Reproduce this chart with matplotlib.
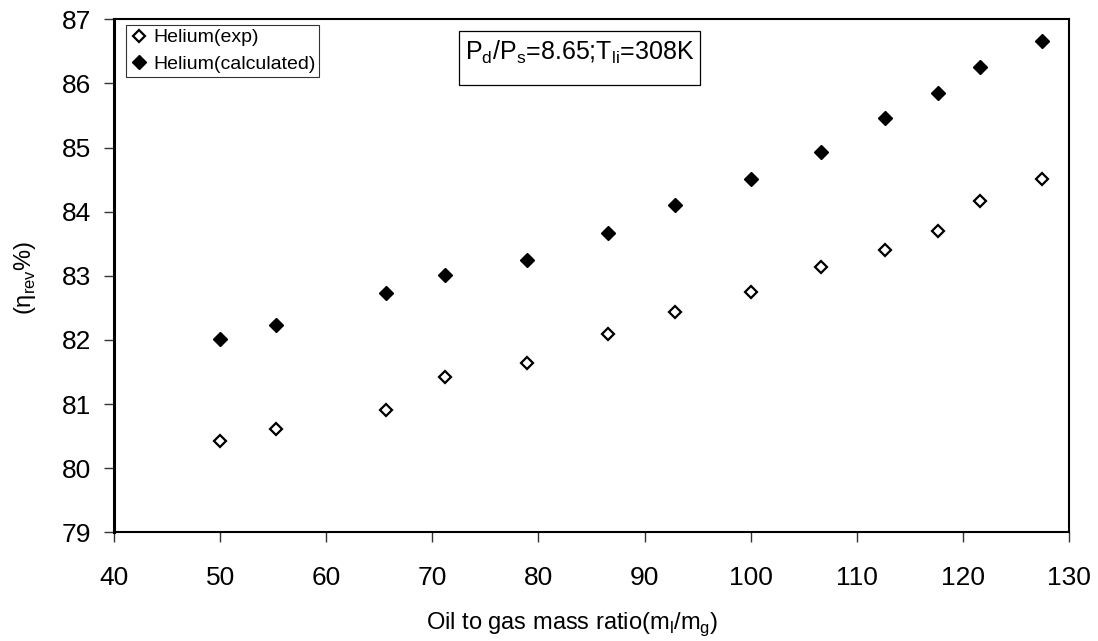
import matplotlib.pyplot as plt

# oil to gas mass ratio
ratio = [50.0, 55.3, 65.6, 71.2, 78.9, 86.6, 92.9, 100.0, 106.6, 112.7, 117.7, 121.6, 127.5]
# volumetric efficiency (%)
eta_exp = [80.43, 80.61, 80.91, 81.42, 81.64, 82.09, 82.43, 82.75, 83.13, 83.40, 83.70, 84.17, 84.51]
eta_calc = [82.02, 82.24, 82.73, 83.02, 83.24, 83.66, 84.11, 84.51, 84.93, 85.46, 85.85, 86.26, 86.66]

xticks = list(range(40, 131, 10))
yticks = list(range(79, 88))

plt.rcParams['font.family'] = ['Liberation Sans', 'DejaVu Sans']
plt.rcParams['mathtext.fontset'] = 'custom'
plt.rcParams['mathtext.rm'] = 'Liberation Sans'

f = plt.figure(figsize=(10.98, 6.41), dpi=100)
ax = f.add_axes([0.1038, 0.1696, 0.8698, 0.8003])

ax.plot(ratio, eta_exp, linestyle='none', marker='D', markersize=6.0,
        markerfacecolor='white', markeredgecolor='black', markeredgewidth=1.6,
        label='Helium(exp)')
ax.plot(ratio, eta_calc, linestyle='none', marker='D', markersize=7.0,
        color='black', label='Helium(calculated)')

ax.set_xlim(40, 130)
ax.set_ylim(79, 87)
ax.set_xticks(xticks)
ax.set_yticks(yticks)
ax.tick_params(axis='both', labelsize=19, direction='out', length=7.2, width=1, color='#333333')
ax.tick_params(axis='x', pad=17)
ax.tick_params(axis='y', pad=9)
for s in ax.spines.values():
  s.set_linewidth(1.5)
ax.spines['left'].set_linewidth(2.2)

ax.set_xlabel(r'Oil to gas mass ratio(m$_\mathregular{l}$/m$_\mathregular{g}$)', fontsize=17)
ax.xaxis.set_label_coords(0.48, -0.152)
ax.set_ylabel(r'(η$_\mathregular{rev}$%)', fontsize=17)
ax.yaxis.set_label_coords(-0.08, 0.496)

leg = ax.legend(loc='upper left', bbox_to_anchor=(0.0123, 0.9889), borderaxespad=0,
                fontsize=14, frameon=True, fancybox=False,
                handletextpad=0.2, handlelength=1.0, borderpad=0.2, labelspacing=0.45)
leg.get_frame().set_edgecolor('black')
leg.get_frame().set_linewidth(0.8)

# condition box
ax.add_patch(plt.Rectangle((0.361, 0.872), 0.253, 0.105, transform=ax.transAxes,
                           facecolor='white', edgecolor='black', linewidth=0.9, zorder=3))
ax.text(0.4875, 0.9207,
        r'P$_\mathregular{d}$/P$_\mathregular{s}$=8.65;T$_\mathregular{li}$=308K',
        transform=ax.transAxes, fontsize=18, va='baseline', ha='center', zorder=4)

plt.savefig('out.png', dpi=100)
